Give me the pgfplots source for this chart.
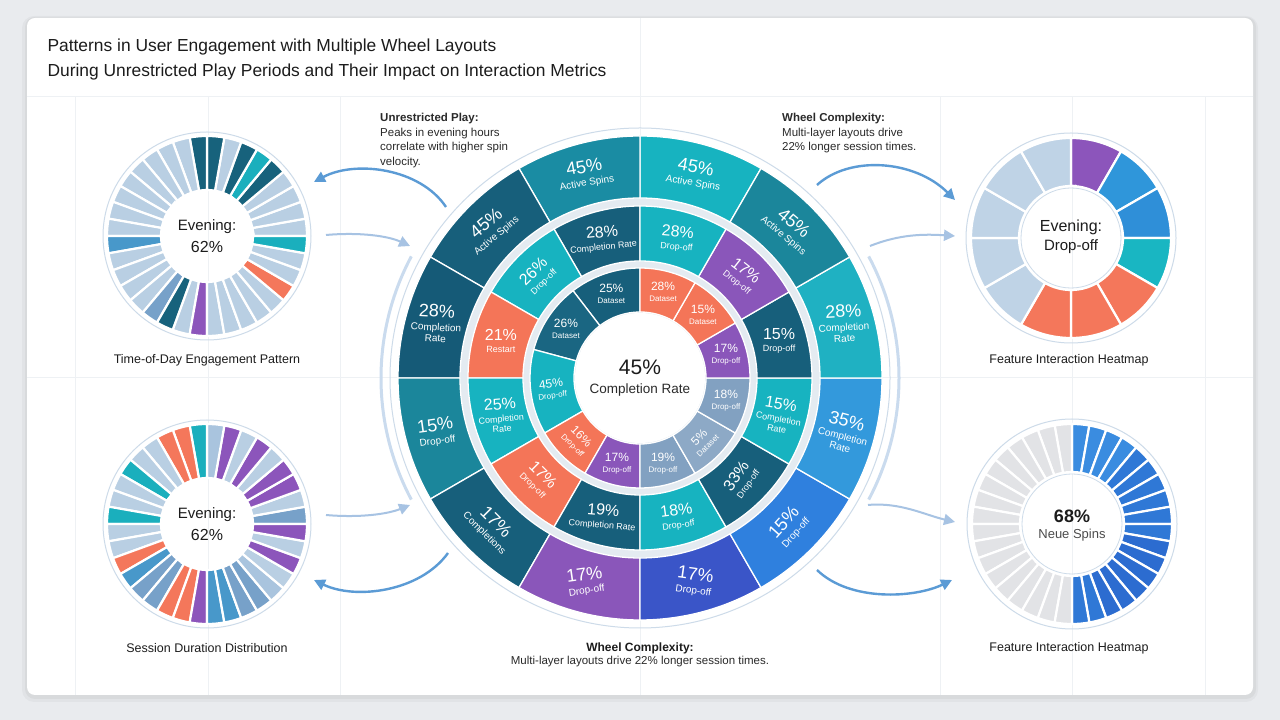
\documentclass[border=0pt]{standalone}
\usepackage{fontspec}
\setmainfont{Liberation Sans}
\usepackage{pgfplots}
\usepackage{pgfplotstable}
\pgfplotsset{compat=1.18}
\usetikzlibrary{arrows.meta}

\definecolor{bgc}{HTML}{E9EBEE}
\definecolor{gridc}{HTML}{EEF1F4}
\definecolor{titlec}{HTML}{1C1C1C}
\definecolor{txtc}{HTML}{2A2A2A}
\definecolor{gapc}{HTML}{E4EBF1}
\definecolor{outlinec}{HTML}{CDDBE9}
\definecolor{mCyan}{HTML}{17B3C0}
\definecolor{mCyan2}{HTML}{1FB1C2}
\definecolor{mTeal}{HTML}{1A8CA3}
\definecolor{mTeal2}{HTML}{1B869B}
\definecolor{mDTeal}{HTML}{175F7B}
\definecolor{mDTeal2}{HTML}{155A77}
\definecolor{mDTeal3}{HTML}{1A6682}
\definecolor{mPurple}{HTML}{8A56BA}
\definecolor{mRoyal}{HTML}{3A55C8}
\definecolor{mBlue}{HTML}{2F80DE}
\definecolor{mSky}{HTML}{3399DC}
\definecolor{mCoral}{HTML}{F47558}
\definecolor{mGray}{HTML}{82A1C1}
\definecolor{mGray2}{HTML}{8DA9C6}
\definecolor{sLight}{HTML}{B9CFE3}
\definecolor{sLight2}{HTML}{A9C4DE}
\definecolor{sDTeal}{HTML}{17627C}
\definecolor{sCyan}{HTML}{1AAFBD}
\definecolor{sMBlue}{HTML}{4898CA}
\definecolor{sSteel}{HTML}{77A1C9}
\definecolor{sCoral}{HTML}{F4775B}
\definecolor{sPurple}{HTML}{8C55BB}
\definecolor{tBlue}{HTML}{2F96DA}
\definecolor{tBlue2}{HTML}{2F8FD8}
\definecolor{tCyan}{HTML}{19B6C2}
\definecolor{tLight}{HTML}{BFD3E6}
\definecolor{hBlue}{HTML}{3A8CE0}
\definecolor{hBlue2}{HTML}{2F78D6}
\definecolor{hBlue3}{HTML}{2C6CD0}
\definecolor{hGray}{HTML}{E2E3E6}
\definecolor{arrowc}{HTML}{5B9BD5}
\definecolor{arrowl}{HTML}{A7C3E3}

% ---------- main wheel (angles in degrees, counter-clockwise from 3 o'clock)
\pgfplotstableread{
a b c
60 90 mCyan
90 120 mTeal
120 150 mDTeal
150 180 mDTeal2
180 210 mTeal2
210 240 mDTeal
240 270 mPurple
270 300 mRoyal
300 330 mBlue
330 360 mSky
0 30 mCyan2
30 60 mTeal2
}\mainOuter

\pgfplotstableread{
a b c
90 120 mDTeal
120 150 mCyan
150 180 mCoral
180 210 mCyan
210 240 mCoral
240 270 mDTeal
270 300 mCyan
300 330 mDTeal
330 360 mCyan
0 30 mDTeal
30 60 mPurple
60 90 mCyan
}\mainMiddle

\pgfplotstableread{
a b c
90 127.5 mDTeal
127.5 165 mDTeal3
165 210 mCyan
210 240 mCoral
240 270 mPurple
270 300 mGray
300 330 mGray2
330 360 mGray
0 30 mPurple
30 60 mCoral
60 90 mCoral
}\mainInner

% ---------- Time-of-Day Engagement Pattern
\pgfplotstableread{
a b c
0 10 sLight
10 20 sLight
20 30 sLight
30 40 sLight
40 50 sDTeal
50 60 sCyan
60 70 sDTeal
70 80 sLight
80 90 sDTeal
90 100 sDTeal
100 110 sLight
110 120 sLight
120 130 sLight
130 140 sLight
140 150 sLight
150 160 sLight
160 170 sLight
170 180 sLight
180 190 sMBlue
190 200 sLight
200 210 sLight
210 220 sLight
220 230 sLight
230 240 sSteel
240 250 sDTeal
250 260 sLight
260 270 sPurple
270 280 sLight
280 290 sLight
290 300 sLight
300 310 sLight
310 320 sLight
320 330 sCoral
330 340 sLight
340 350 sLight
350 360 sCyan
}\todTable

% ---------- Session Duration Distribution
\pgfplotstableread{
a b c
0 10 sSteel
10 20 sLight
20 30 sPurple
30 40 sPurple
40 50 sLight
50 60 sPurple
60 70 sLight
70 80 sPurple
80 90 sLight2
90 100 sCyan
100 110 sCoral
110 120 sCoral
120 130 sLight
130 140 sLight
140 150 sCyan
150 160 sLight
160 170 sLight
170 180 sCyan
180 190 sLight
190 200 sLight
200 210 sCoral
210 220 sMBlue
220 230 sSteel
230 240 sSteel
240 250 sCoral
250 260 sCoral
260 270 sPurple
270 280 sMBlue
280 290 sMBlue
290 300 sSteel
300 310 sSteel
310 320 sLight2
320 330 sLight
330 340 sPurple
340 350 sLight
350 360 sPurple
}\sessTable

% ---------- Feature Interaction Heatmap (top)
\pgfplotstableread{
a b c
60 90 sPurple
30 60 tBlue
0 30 tBlue2
330 360 tCyan
300 330 sCoral
270 300 sCoral
240 270 sCoral
210 240 tLight
180 210 tLight
150 180 tLight
120 150 tLight
90 120 tLight
}\featTable

% ---------- Feature Interaction Heatmap (bottom)
\pgfplotstableread{
a b c
80 90 hBlue
70 80 hBlue
60 70 hBlue
50 60 hBlue
40 50 hBlue2
30 40 hBlue2
20 30 hBlue2
10 20 hBlue2
0 10 hBlue2
350 360 hBlue2
340 350 hBlue3
330 340 hBlue3
320 330 hBlue3
310 320 hBlue3
300 310 hBlue3
290 300 hBlue3
280 290 hBlue2
270 280 hBlue2
90 100 hGray
100 110 hGray
110 120 hGray
120 130 hGray
130 140 hGray
140 150 hGray
150 160 hGray
160 170 hGray
170 180 hGray
180 190 hGray
190 200 hGray
200 210 hGray
210 220 hGray
220 230 hGray
230 240 hGray
240 250 hGray
250 260 hGray
260 270 hGray
}\heatTable

% #1 table, #2 cx, #3 cy, #4 inner r, #5 outer r, #6 separator width
\newcommand\drawring[6]{%
  \pgfplotstablegetrowsof{#1}%
  \edef\ringNm{\the\numexpr\pgfplotsretval-1\relax}%
  \foreach \ii in {0,...,\ringNm}{%
    \pgfplotstablegetelem{\ii}{a}\of{#1}\let\ringA\pgfplotsretval
    \pgfplotstablegetelem{\ii}{b}\of{#1}\let\ringB\pgfplotsretval
    \pgfplotstablegetelem{\ii}{c}\of{#1}\let\ringC\pgfplotsretval
    \edef\ringtmp{\noexpand\fill[\ringC,draw=white,line width=#6pt]
      (axis cs:{#2+#4*cos(\ringA)},{#3+#4*sin(\ringA)}) --
      (axis cs:{#2+#5*cos(\ringA)},{#3+#5*sin(\ringA)})
      arc[start angle=\ringA,end angle=\ringB,radius=#5pt] --
      (axis cs:{#2+#4*cos(\ringB)},{#3+#4*sin(\ringB)})
      arc[start angle=\ringB,end angle=\ringA,radius=#4pt] -- cycle;}%
    \ringtmp
  }%
}

\tikzset{lblw/.style={text=white, align=center, inner sep=0pt}}
\newcommand\olbl[4]{\node[lblw, rotate=#2, font=\fontsize{10}{11}\selectfont]
  at (axis cs:{640+211*cos(#1)},{342+211*sin(#1)}) {{\fontsize{18}{19}\selectfont #3}\\[2.5pt]#4};}
\newcommand\mlbl[4]{\node[lblw, rotate=#2, font=\fontsize{9}{10}\selectfont]
  at (axis cs:{640+144*cos(#1)},{342+144*sin(#1)}) {{\fontsize{16}{17}\selectfont #3}\\[2.5pt]#4};}
\newcommand\ilbl[4]{\node[lblw, rotate=#2, font=\fontsize{8}{9}\selectfont]
  at (axis cs:{640+89*cos(#1)},{342+89*sin(#1)}) {{\fontsize{12}{13}\selectfont #3}\\[2pt]#4};}

\begin{document}
\begin{tikzpicture}
\begin{axis}[width=1280pt,height=720pt,scale only axis,
  xmin=0,xmax=1280,ymin=0,ymax=720,hide axis,clip=false]
% background and card
\fill[bgc] (axis cs:0,0) rectangle (axis cs:1280,720);
\fill[black,opacity=0.03,rounded corners=12pt] (axis cs:22,18) rectangle (axis cs:1258,704);
\fill[black,opacity=0.04,rounded corners=10pt] (axis cs:25,21) rectangle (axis cs:1256,703);
\fill[white,rounded corners=8pt] (axis cs:27,25) rectangle (axis cs:1253,702);
% faint grid
\draw[gridc,line width=1pt] (axis cs:27,623) -- (axis cs:1253,623);
\draw[gridc,line width=1pt] (axis cs:27,342) -- (axis cs:1253,342);
\draw[gridc,line width=1pt] (axis cs:640,25) -- (axis cs:640,702);
\foreach \gx in {75,208,340,940,1072,1205}{
  \edef\gtmp{\noexpand\draw[gridc,line width=1pt] (axis cs:\gx,25) -- (axis cs:\gx,623);}\gtmp}

% title
\node[anchor=west,font=\fontsize{17.4}{20}\selectfont,text=titlec] at (axis cs:44,673)
  {Patterns in User Engagement with Multiple Wheel Layouts};
\node[anchor=west,font=\fontsize{17.4}{20}\selectfont,text=titlec] at (axis cs:44,648)
  {During Unrestricted Play Periods and Their Impact on Interaction Metrics};

% ---------------- main wheel
\draw[outlinec,line width=1pt] (axis cs:640,342) circle[radius=250pt];
\fill[gapc] (axis cs:640,342) circle[radius=181pt];
\draw[arrowl!60,line width=3pt] (axis cs:{640+259*cos(152)},{342+259*sin(152)}) arc[start angle=152,end angle=208,radius=259pt];
\draw[arrowl!60,line width=3pt] (axis cs:{640+259*cos(-28)},{342+259*sin(-28)}) arc[start angle=-28,end angle=28,radius=259pt];
\drawring{\mainOuter}{640}{342}{180}{242}{1.3}
\drawring{\mainMiddle}{640}{342}{117}{172}{1.3}
\drawring{\mainInner}{640}{342}{66}{110}{1.3}
\fill[white] (axis cs:640,342) circle[radius=65pt];

\olbl{75}{-10}{45\%}{Active Spins}
\olbl{105}{10}{45\%}{Active Spins}
\olbl{135}{40}{45\%}{Active Spins}
\olbl{165}{-3}{28\%}{Completion\\Rate}
\olbl{195}{8}{15\%}{Drop-off}
\olbl{225}{-45}{17\%}{Completions}
\olbl{255}{8}{17\%}{Drop-off}
\olbl{285}{-8}{17\%}{Drop-off}
\olbl{315}{48}{15\%}{Drop-off}
\olbl{345}{-15}{35\%}{Completion\\Rate}
\olbl{15}{3}{28\%}{Completion\\Rate}
\olbl{45}{-40}{45\%}{Active Spins}

\mlbl{105}{6}{28\%}{Completion Rate}
\mlbl{75}{-5}{28\%}{Drop-off}
\mlbl{45}{-38}{17\%}{Drop-off}
\mlbl{135}{45}{26\%}{Drop-off}
\mlbl{165}{0}{21\%}{Restart}
\mlbl{195}{5}{25\%}{Completion\\Rate}
\mlbl{225}{-45}{17\%}{Drop-off}
\mlbl{255}{-5}{19\%}{Completion Rate}
\mlbl{285}{8}{18\%}{Drop-off}
\mlbl{315}{55}{33\%}{Drop-off}
\mlbl{345}{-10}{15\%}{Completion\\Rate}
\mlbl{15}{0}{15\%}{Drop-off}

\ilbl{108.75}{0}{25\%}{Dataset}
\ilbl{146.25}{0}{26\%}{Dataset}
\ilbl{187.5}{8}{45\%}{Drop-off}
\ilbl{225}{-45}{16\%}{Drop-off}
\ilbl{255}{0}{17\%}{Drop-off}
\ilbl{285}{0}{19\%}{Drop-off}
\ilbl{315}{45}{5\%}{Dataset}
\ilbl{345}{0}{18\%}{Drop-off}
\ilbl{15}{0}{17\%}{Drop-off}
\ilbl{45}{0}{15\%}{Dataset}
\ilbl{75}{0}{28\%}{Dataset}

\node[font=\fontsize{21}{23}\selectfont,text=titlec] at (axis cs:640,353) {45\%};
\node[font=\fontsize{13.5}{15}\selectfont,text=txtc] at (axis cs:640,330) {Completion Rate};

% ---------------- small wheels
\draw[outlinec,line width=1pt] (axis cs:207,484) circle[radius=104pt];
\drawring{\todTable}{207}{484}{46}{100}{2.2}
\node[font=\fontsize{15}{17}\selectfont,text=titlec] at (axis cs:207,493) {Evening:};
\node[font=\fontsize{16}{18}\selectfont,text=titlec] at (axis cs:207,473) {62\%};
\node[font=\fontsize{12.5}{14}\selectfont,text=titlec] at (axis cs:207,360) {Time-of-Day Engagement Pattern};

\draw[outlinec,line width=1pt] (axis cs:207,196) circle[radius=104pt];
\drawring{\sessTable}{207}{196}{46}{100}{2.2}
\node[font=\fontsize{15}{17}\selectfont,text=titlec] at (axis cs:207,205) {Evening:};
\node[font=\fontsize{16}{18}\selectfont,text=titlec] at (axis cs:207,185) {62\%};
\node[font=\fontsize{12.5}{14}\selectfont,text=titlec] at (axis cs:207,72) {Session Duration Distribution};

\draw[outlinec,line width=1pt] (axis cs:1071,482) circle[radius=105pt];
\drawring{\featTable}{1071}{482}{52}{100}{2.2}
\draw[outlinec,line width=0.8pt] (axis cs:1071,482) circle[radius=50pt];
\node[font=\fontsize{16}{18}\selectfont,text=titlec] at (axis cs:1071,493) {Evening:};
\node[font=\fontsize{15}{17}\selectfont,text=titlec] at (axis cs:1071,473) {Drop-off};
\node[font=\fontsize{12.5}{14}\selectfont,text=titlec] at (axis cs:1069,360) {Feature Interaction Heatmap};

\draw[outlinec,line width=1pt] (axis cs:1072,196) circle[radius=105pt];
\drawring{\heatTable}{1072}{196}{52}{100}{2.2}
\draw[outlinec,line width=0.8pt] (axis cs:1072,196) circle[radius=50pt];
\node[font=\bfseries\fontsize{18}{20}\selectfont,text=titlec] at (axis cs:1072,204) {68\%};
\node[font=\fontsize{13}{15}\selectfont,text=black!70] at (axis cs:1072,185) {Neue Spins};
\node[font=\fontsize{12.5}{14}\selectfont,text=titlec] at (axis cs:1069,72) {Feature Interaction Heatmap};

% ---------------- annotations
\node[anchor=north west,align=left,font=\fontsize{11.5}{14.5}\selectfont,text=txtc,inner sep=0pt] at (axis cs:380,607)
  {{\bfseries Unrestricted Play:}\\Peaks in evening hours\\correlate with higher spin\\velocity.};
\node[anchor=north west,align=left,font=\fontsize{11.5}{14.5}\selectfont,text=txtc,inner sep=0pt] at (axis cs:782,607)
  {{\bfseries Wheel Complexity:}\\Multi-layer layouts drive\\22\% longer session times.};
\node[font=\bfseries\fontsize{12}{14}\selectfont,text=titlec] at (axis cs:640,72) {Wheel Complexity:};
\node[font=\fontsize{11.5}{14}\selectfont,text=txtc] at (axis cs:640,58) {Multi-layer layouts drive 22\% longer session times.};

% ---------------- arrows
\draw[arrowc,line width=2.4pt,-{Triangle[length=11pt,width=11pt]}] (axis cs:446,513) .. controls (axis cs:420,552) and (axis cs:355,560) .. (axis cs:314,538);
\draw[arrowl,line width=2pt,-{Triangle[length=11pt,width=11pt]}] (axis cs:326,485) .. controls (axis cs:360,488) and (axis cs:388,484) .. (axis cs:410,474);
\draw[arrowl,line width=2pt,-{Triangle[length=11pt,width=11pt]}] (axis cs:326,205) .. controls (axis cs:360,202) and (axis cs:388,206) .. (axis cs:410,215);
\draw[arrowc,line width=2.4pt,-{Triangle[length=11pt,width=11pt]}] (axis cs:448,167) .. controls (axis cs:420,128) and (axis cs:355,120) .. (axis cs:314,140);
\draw[arrowc,line width=2.4pt,-{Triangle[length=11pt,width=11pt]}] (axis cs:817,535) .. controls (axis cs:850,565) and (axis cs:915,560) .. (axis cs:955,520);
\draw[arrowl,line width=2pt,-{Triangle[length=11pt,width=11pt]}] (axis cs:870,474) .. controls (axis cs:900,486) and (axis cs:925,486) .. (axis cs:955,484);
\draw[arrowl,line width=2pt,-{Triangle[length=11pt,width=11pt]}] (axis cs:868,215) .. controls (axis cs:900,218) and (axis cs:925,205) .. (axis cs:955,198);
\draw[arrowc,line width=2.4pt,-{Triangle[length=11pt,width=11pt]}] (axis cs:817,150) .. controls (axis cs:850,118) and (axis cs:915,122) .. (axis cs:952,140);
\end{axis}
\end{tikzpicture}
\end{document}
